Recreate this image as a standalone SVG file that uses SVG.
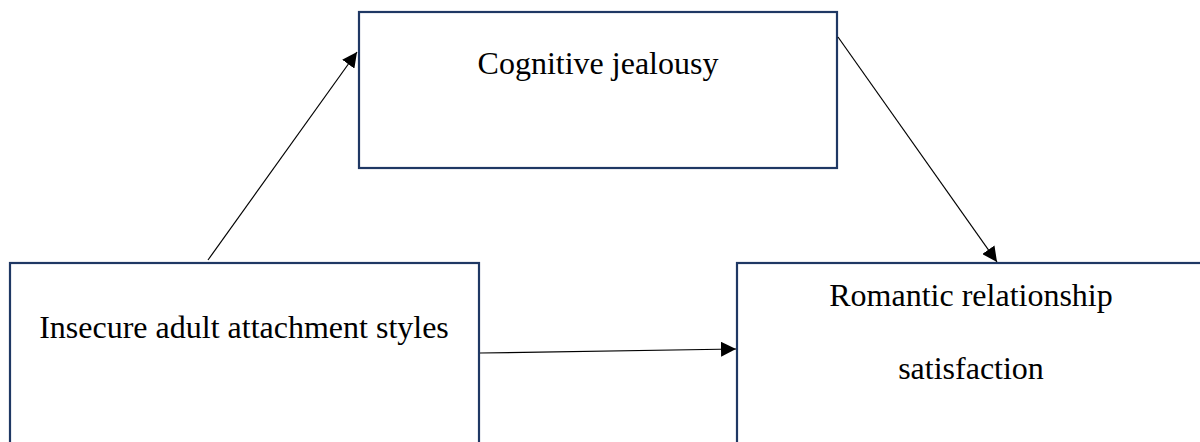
<svg xmlns="http://www.w3.org/2000/svg" width="1200" height="442" viewBox="0 0 1200 442">
<style>
.box{fill:#fff;stroke:#1f3864;stroke-width:2.2}
.lbl{font-family:"Liberation Serif","Times New Roman",serif;font-size:32px;fill:#000;text-anchor:middle}
.con{stroke:#000;stroke-width:1.2;fill:none;marker-end:url(#ah)}
</style>
<defs>
<marker id="ah" viewBox="0 0 10 10" refX="10" refY="5" markerWidth="15" markerHeight="15" markerUnits="userSpaceOnUse" orient="auto">
<path d="M0,0 L10,5 L0,10 z" fill="#000"/>
</marker>
</defs>
<rect width="1200" height="442" fill="#fff"/>
<g id="node-cognitive">
<rect class="box" x="359" y="12" width="478" height="156"/>
<text class="lbl" x="598" y="74">Cognitive jealousy</text>
</g>
<g id="node-insecure">
<rect class="box" x="10" y="263" width="469" height="200"/>
<text class="lbl" x="244" y="338">Insecure adult attachment styles</text>
</g>
<g id="node-romantic">
<rect class="box" x="737" y="263" width="480" height="200"/>
<text class="lbl" x="971" y="306">Romantic relationship</text>
<text class="lbl" x="971" y="379">satisfaction</text>
</g>
<g id="connectors">
<line class="con" x1="208" y1="260" x2="357" y2="52"/>
<line class="con" x1="838" y1="37" x2="997" y2="262"/>
<line class="con" x1="480" y1="353" x2="736" y2="349"/>
</g>
</svg>
